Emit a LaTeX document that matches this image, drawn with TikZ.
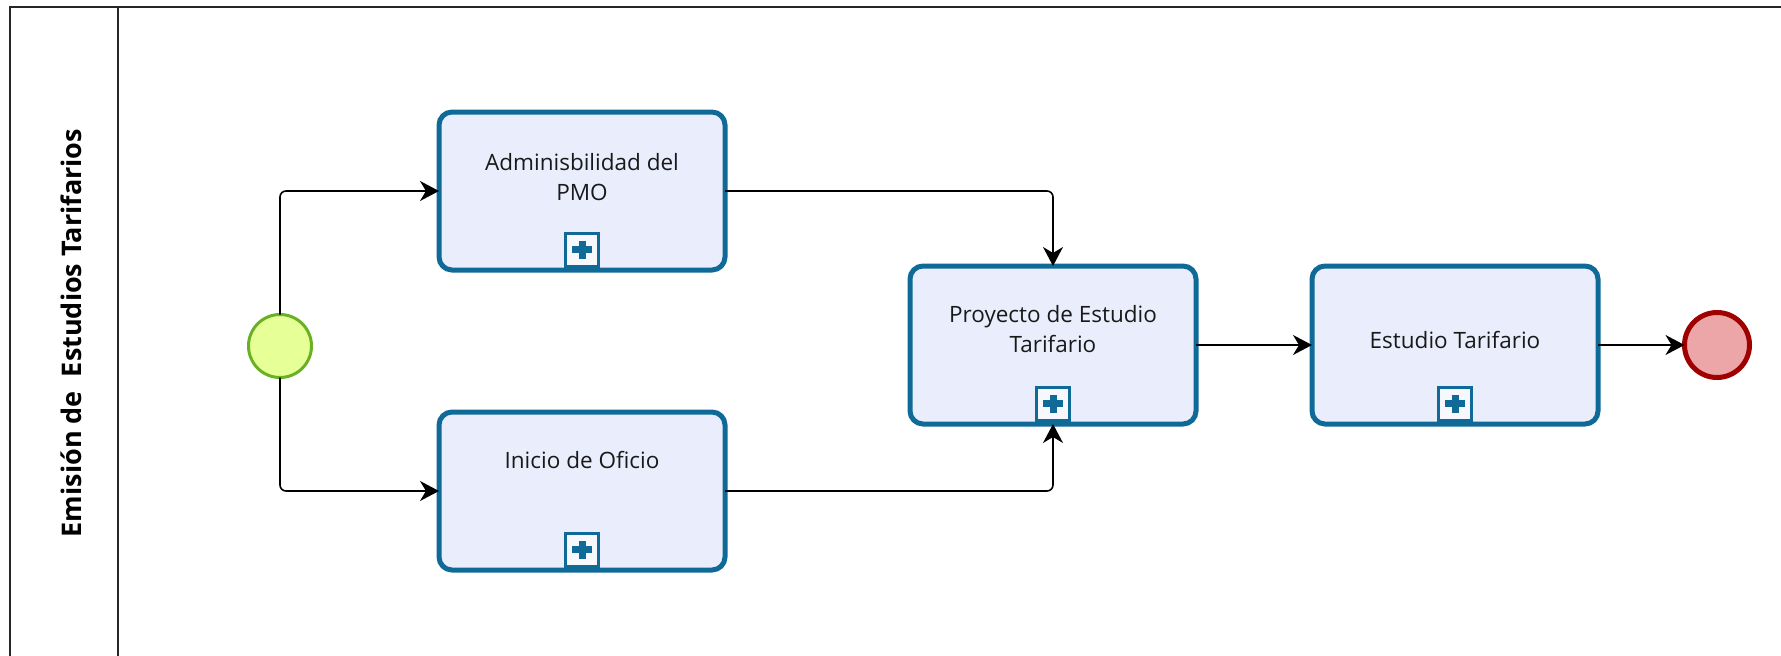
\documentclass[tikz,border=0pt]{standalone}
\usepackage{fontspec}
\setmainfont{Open Sans}
\usetikzlibrary{arrows.meta}
\definecolor{taskblue}{RGB}{16,106,152}
\definecolor{taskfill}{RGB}{234,238,252}
\definecolor{startfill}{RGB}{230,255,150}
\definecolor{startline}{RGB}{106,176,35}
\definecolor{endfill}{RGB}{236,166,168}
\definecolor{endline}{RGB}{160,0,0}
\tikzset{
  pool/.style={line width=2pt,black!85},
  lanetitle/.style={rotate=90,font=\fontsize{27}{32}\selectfont\bfseries,inner sep=0pt},
  task/.style={draw=taskblue,fill=taskfill,line width=5pt,rounded corners=13pt,
    minimum width=286pt,minimum height=158pt,outer sep=0pt},
  tasklabel/.style={align=center,font=\fontsize{22.5}{30}\selectfont,text=black!90,inner sep=0pt},
  subproc/.style={draw=taskblue,fill=white!60!taskfill,line width=3pt,minimum size=33pt,
    inner sep=0pt,outer sep=0pt,anchor=south,
    path picture={
      \fill[taskblue] ([xshift=-10pt,yshift=-3.5pt]path picture bounding box.center) rectangle ++(20pt,7pt);
      \fill[taskblue] ([xshift=-3.5pt,yshift=-9pt]path picture bounding box.center) rectangle ++(7pt,18pt);
    }},
  startevent/.style={circle,draw=startline,fill=startfill,line width=3pt,minimum size=63pt,outer sep=0pt},
  endevent/.style={circle,draw=endline,fill=endfill,line width=5pt,minimum size=65pt,outer sep=0pt},
  flow/.style={line width=1.6pt,rounded corners=6pt,-{Stealth[length=19pt,width=20pt,inset=6pt]}}
}
\begin{document}
\begin{tikzpicture}[x=1pt,y=-1pt]
  \useasboundingbox (0,0) rectangle (1781,656);
  % pool and lane
  \draw[pool] (10,656) -- (10,7) -- (1781,7);
  \draw[pool] (118,7) -- (118,656);
  \node[lanetitle] (lane) at (71,333) {Emisión de\ \ Estudios Tarifarios};
  % events
  \node[startevent] (inicio) at (280,346) {};
  \node[endevent] (fin) at (1717,345) {};
  % tasks
  \node[task] (adm) at (582,191) {};
  \node[task] (ofi) at (582,491) {};
  \node[task] (proy) at (1053,345) {};
  \node[task] (est) at (1455,345) {};
  % labels
  \node[tasklabel] (admlabel) at ([yshift=14pt]adm.center) {Adminisbilidad del\\PMO};
  \node[tasklabel] (ofilabel) at ([yshift=31pt]ofi.center) {Inicio de Oficio};
  \node[tasklabel] (proylabel) at ([yshift=16pt]proy.center) {Proyecto de Estudio\\Tarifario};
  \node[tasklabel] (estlabel) at ([yshift=5pt]est.center) {Estudio Tarifario};
  % sub-process markers
  \node[subproc] (admplus) at ([yshift=4pt]adm.south) {};
  \node[subproc] (ofiplus) at ([yshift=4pt]ofi.south) {};
  \node[subproc] (proyplus) at ([yshift=4pt]proy.south) {};
  \node[subproc] (estplus) at ([yshift=4pt]est.south) {};
  % sequence flows
  \draw[flow] (inicio.north) |- (adm.west);
  \draw[flow] (inicio.south) |- (ofi.west);
  \draw[flow] (adm.east) -| (proy.north);
  \draw[flow] (ofi.east) -| (proy.south);
  \draw[flow] (proy.east) -- (est.west);
  \draw[flow] (est.east) -- (fin.west);
\end{tikzpicture}
\end{document}
